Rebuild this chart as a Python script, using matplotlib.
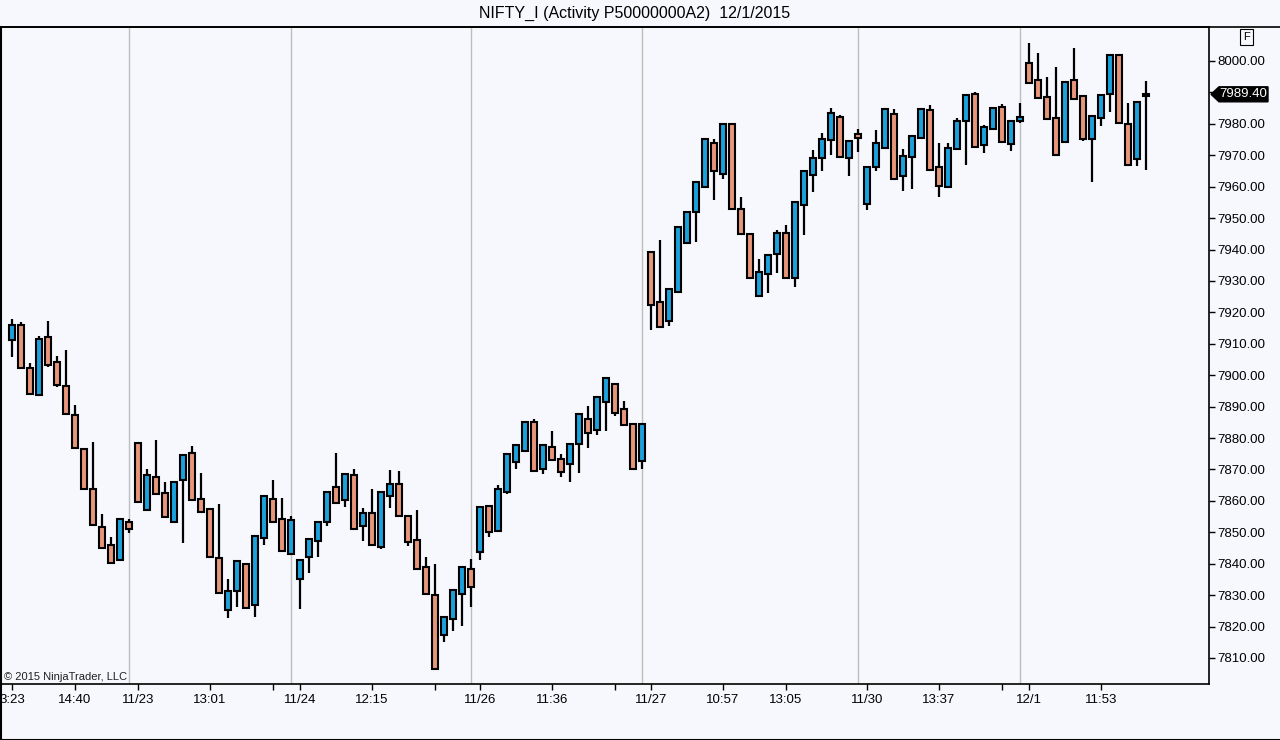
#! /usr/bin/python3
# -*- coding: utf-8 -*-

"""
NIFTY_I candlestick chart (NinjaTrader style) for 11/20 - 12/1/2015
"""
import matplotlib
matplotlib.use("Agg")
import matplotlib.pyplot as plt
from matplotlib.patches import Polygon
from matplotlib.lines import Line2D
import numpy as np

# bar OHLC values
opens = [7911.2, 7915.9, 7902.4, 7893.8, 7912.3, 7904.3, 7896.7, 7887.4, 7876.6, 7863.9,
         7851.6, 7845.9, 7841.2, 7853.4, 7878.3, 7857.1, 7867.5, 7862.4, 7853.4, 7866.6,
         7875.1, 7860.5, 7857.4, 7841.7, 7825.3, 7831.4, 7840.0, 7826.9, 7848.2, 7860.7,
         7854.3, 7843.1, 7835.1, 7842.1, 7847.2, 7853.2, 7864.3, 7860.3, 7868.3, 7852.0,
         7856.3, 7845.4, 7861.6, 7865.3, 7855.3, 7847.4, 7839.1, 7830.0, 7817.2, 7822.4,
         7830.4, 7838.2, 7843.8, 7858.3, 7850.3, 7862.9, 7872.5, 7876.0, 7885.0, 7870.2,
         7877.3, 7873.4, 7871.7, 7878.2, 7886.2, 7882.5, 7891.6, 7897.3, 7889.1, 7884.4,
         7872.7, 7939.3, 7923.2, 7917.1, 7926.5, 7942.0, 7952.1, 7960.0, 7974.0, 7964.0,
         7979.8, 7952.8, 7944.9, 7925.2, 7932.2, 7938.6, 7945.2, 7930.9, 7954.2, 7963.7,
         7969.0, 7974.9, 7982.3, 7969.0, 7976.7, 7954.5, 7966.4, 7972.3, 7983.2, 7963.4,
         7969.4, 7975.6, 7984.3, 7966.2, 7960.0, 7972.1, 7981.0, 7989.5, 7973.3, 7978.4,
         7985.5, 7973.6, 7981.0, 7999.3, 7993.8, 7988.7, 7982.0, 7974.2, 7994.1, 7988.8,
         7975.1, 7981.8, 7989.4, 8002.0, 7980.0, 7968.9, 7988.8]
highs = [7917.8, 7916.8, 7903.8, 7912.5, 7917.1, 7906.1, 7908.0, 7890.5, 7876.6, 7878.7,
         7855.8, 7848.4, 7854.1, 7854.1, 7878.3, 7870.0, 7879.4, 7865.9, 7866.1, 7874.7,
         7877.5, 7868.8, 7857.4, 7858.9, 7835.0, 7840.9, 7840.0, 7848.9, 7861.7, 7866.6,
         7860.8, 7855.2, 7841.3, 7847.8, 7853.4, 7862.9, 7875.1, 7868.7, 7870.0, 7857.8,
         7863.7, 7862.9, 7869.8, 7869.5, 7855.3, 7857.1, 7842.2, 7839.9, 7823.1, 7831.7,
         7839.1, 7841.4, 7858.2, 7858.7, 7865.0, 7875.0, 7877.9, 7885.2, 7886.0, 7877.9,
         7882.2, 7874.8, 7878.2, 7887.8, 7890.2, 7893.2, 7899.2, 7897.3, 7891.9, 7884.4,
         7884.9, 7939.3, 7943.0, 7927.3, 7947.3, 7952.1, 7961.6, 7975.1, 7975.1, 7979.8,
         7979.8, 7956.6, 7944.9, 7936.9, 7938.3, 7946.2, 7947.8, 7955.2, 7965.1, 7971.7,
         7977.0, 7984.9, 7982.8, 7974.6, 7978.4, 7966.2, 7978.0, 7984.8, 7984.8, 7972.0,
         7976.2, 7984.8, 7985.9, 7973.8, 7973.8, 7981.8, 7989.3, 7990.1, 7979.7, 7985.1,
         7986.4, 7981.0, 7986.5, 8005.6, 8002.4, 7994.8, 7998.0, 7993.2, 8004.0, 7988.8,
         7982.5, 7989.2, 8002.0, 8002.0, 7986.5, 7987.1, 7993.7]
lows = [7905.7, 7902.4, 7894.0, 7893.6, 7902.5, 7896.4, 7887.7, 7876.8, 7863.8, 7852.3,
        7845.1, 7840.2, 7841.2, 7849.7, 7859.5, 7857.1, 7862.2, 7855.0, 7852.9, 7846.5,
        7860.3, 7856.5, 7842.1, 7830.7, 7822.6, 7826.1, 7825.9, 7823.2, 7845.8, 7853.3,
        7844.1, 7843.1, 7825.5, 7837.2, 7842.2, 7852.1, 7859.4, 7858.2, 7851.1, 7847.3,
        7846.0, 7844.6, 7857.8, 7855.2, 7845.7, 7838.2, 7830.4, 7806.5, 7815.2, 7818.7,
        7820.2, 7826.3, 7841.2, 7848.6, 7850.3, 7862.2, 7870.1, 7875.8, 7869.6, 7868.5,
        7873.1, 7867.7, 7866.1, 7868.8, 7876.9, 7881.0, 7882.4, 7887.1, 7884.1, 7870.2,
        7870.3, 7914.4, 7915.2, 7915.8, 7926.5, 7942.0, 7942.5, 7960.0, 7955.8, 7962.4,
        7952.5, 7944.9, 7930.9, 7925.2, 7926.3, 7932.4, 7930.9, 7928.2, 7944.6, 7958.4,
        7965.1, 7970.1, 7969.3, 7963.4, 7971.1, 7952.6, 7965.1, 7972.3, 7962.4, 7958.7,
        7959.4, 7975.6, 7965.3, 7956.8, 7960.0, 7972.1, 7966.9, 7972.2, 7970.8, 7978.4,
        7974.3, 7971.5, 7980.2, 7992.9, 7988.1, 7981.4, 7970.0, 7974.2, 7987.9, 7974.5,
        7961.4, 7979.3, 7983.9, 7980.2, 7966.9, 7966.6, 7965.3]
closes = [7916.1, 7902.4, 7894.0, 7911.6, 7903.3, 7896.8, 7887.7, 7876.8, 7863.8, 7852.3,
          7845.1, 7840.2, 7854.1, 7851.2, 7859.5, 7868.2, 7862.2, 7855.0, 7866.1, 7874.7,
          7860.3, 7856.5, 7842.1, 7830.7, 7831.3, 7840.9, 7825.9, 7848.9, 7861.7, 7853.3,
          7844.1, 7853.8, 7841.3, 7847.8, 7853.4, 7862.9, 7859.4, 7868.7, 7851.1, 7856.3,
          7846.0, 7862.9, 7865.3, 7855.2, 7846.9, 7838.2, 7830.4, 7806.5, 7823.1, 7831.7,
          7839.1, 7832.5, 7858.2, 7850.2, 7863.7, 7875.0, 7877.9, 7885.2, 7869.6, 7877.9,
          7873.1, 7869.1, 7878.2, 7887.8, 7881.7, 7893.2, 7899.2, 7887.9, 7884.1, 7870.2,
          7884.4, 7922.4, 7915.2, 7927.3, 7947.3, 7952.1, 7961.6, 7975.1, 7965.1, 7979.8,
          7952.8, 7944.9, 7930.9, 7933.0, 7938.3, 7945.2, 7930.9, 7955.2, 7965.1, 7969.2,
          7975.1, 7983.6, 7969.3, 7974.6, 7975.4, 7966.2, 7974.0, 7984.8, 7962.4, 7969.9,
          7976.2, 7984.8, 7965.3, 7960.2, 7972.3, 7980.9, 7989.3, 7972.7, 7979.1, 7985.1,
          7974.3, 7981.0, 7982.3, 7992.9, 7988.1, 7981.4, 7970.0, 7993.2, 7987.9, 7975.1,
          7982.5, 7989.2, 8002.0, 7980.2, 7966.9, 7987.1, 7989.4]

# x axis: bar index of each time label, bar index of session breaks
tick_bars = [0, 7, 14, 22, 29, 32, 40, 47, 52, 60, 67, 71, 79, 86, 95, 103, 110, 113, 121]
tick_labels = ["3:23", "14:40", "11/23", "13:01", "", "11/24", "12:15", "", "11/26", "11:36",
               "", "11/27", "10:57", "13:05", "11/30", "13:37", "", "12/1", "11:53"]
session_breaks = [13, 31, 51, 70, 94, 112]
price_ticks = np.arange(7810, 8001, 10)

title = "NIFTY_I (Activity P50000000A2)  12/1/2015"
last_price = closes[-1]

UP_COLOR = "#1BA1DC"
DOWN_COLOR = "#E8967A"
BG = "#F6F8FD"


def main():
    plt.rcParams['font.family'] = ['Liberation Sans', 'DejaVu Sans']

    fig = plt.figure(figsize=(12.8, 7.4), dpi=100, facecolor=BG)
    ax = fig.add_axes([0.0, 1 - 684 / 740, 1209 / 1280, 657 / 740])
    ax.set_facecolor(BG)

    o = np.array(opens)
    h = np.array(highs)
    l = np.array(lows)
    c = np.array(closes)
    x = np.arange(len(o))
    up = c >= o
    colors = np.where(up, UP_COLOR, DOWN_COLOR)

    for b in session_breaks:
        ax.axvline(b, color="#BEBEBE", lw=1.0, zorder=0)

    ax.vlines(x, l, h, color="black", lw=1.6, zorder=2)
    body_low = np.minimum(o, c)
    body_h = np.maximum(np.abs(c - o), 0.5)
    ax.bar(x, body_h, bottom=body_low, width=0.62, color=colors,
           edgecolor="black", linewidth=1.5, zorder=3)

    ax.set_xlim(-1.333, 133.0)
    ax.set_ylim(7801.72, 8010.82)

    ax.yaxis.tick_right()
    ax.set_yticks(price_ticks)
    ax.set_yticklabels(["%.2f" % p for p in price_ticks])
    ax.set_xticks(tick_bars)
    ax.set_xticklabels(tick_labels)
    ax.tick_params(axis="both", direction="out", length=4, width=1, colors="black",
                   labelsize=9.5, pad=2)
    ax.tick_params(axis="x", pad=3)

    for side in ["top", "left", "bottom", "right"]:
        ax.spines[side].set_linewidth(1.2)
        ax.spines[side].set_color("black")
    ax.spines["left"].set_visible(False)

    ax.text(0.003, 0.011, "\u00a9 2015 NinjaTrader, LLC", transform=ax.transAxes,
            fontsize=8, va="center", ha="left", color="#202020")

    # last price tag on the price axis
    trans = ax.get_yaxis_transform()
    half = 7.5 / 3.142
    x0 = 1211 / 1209
    x1 = 1219 / 1209
    x2 = 1268 / 1209
    tag = Polygon([[x0, last_price], [x1, last_price + half], [x2, last_price + half],
                   [x2, last_price - half], [x1, last_price - half]],
                  closed=True, transform=trans, facecolor="black", edgecolor="black",
                  clip_on=False, zorder=5)
    ax.add_patch(tag)
    ax.text((x1 + x2) / 2, last_price, "%.2f" % last_price, transform=trans,
            color="white", fontsize=9.5, ha="center", va="center", zorder=6, clip_on=False)

    fig.text(635 / 1280, 1 - 13 / 740, title, ha="center", va="center", fontsize=11.5)
    fig.text(1246.5 / 1280, 1 - 37 / 740, "F", ha="center", va="center", fontsize=8,
             bbox=dict(boxstyle="square,pad=0.25", facecolor="none", edgecolor="black", lw=0.8))

    # outer frame of the chart panel
    fig.add_artist(Line2D([0, 1], [1 - 27 / 740, 1 - 27 / 740], color="black", lw=1.2))
    fig.add_artist(Line2D([0, 1], [0.5 / 740, 0.5 / 740], color="black", lw=1.5))
    fig.add_artist(Line2D([0.5 / 1280, 0.5 / 1280], [0, 1 - 27 / 740], color="black", lw=1.5))

    fig.savefig("out.png", dpi=100, facecolor=BG)


if __name__ == "__main__":
    main()
